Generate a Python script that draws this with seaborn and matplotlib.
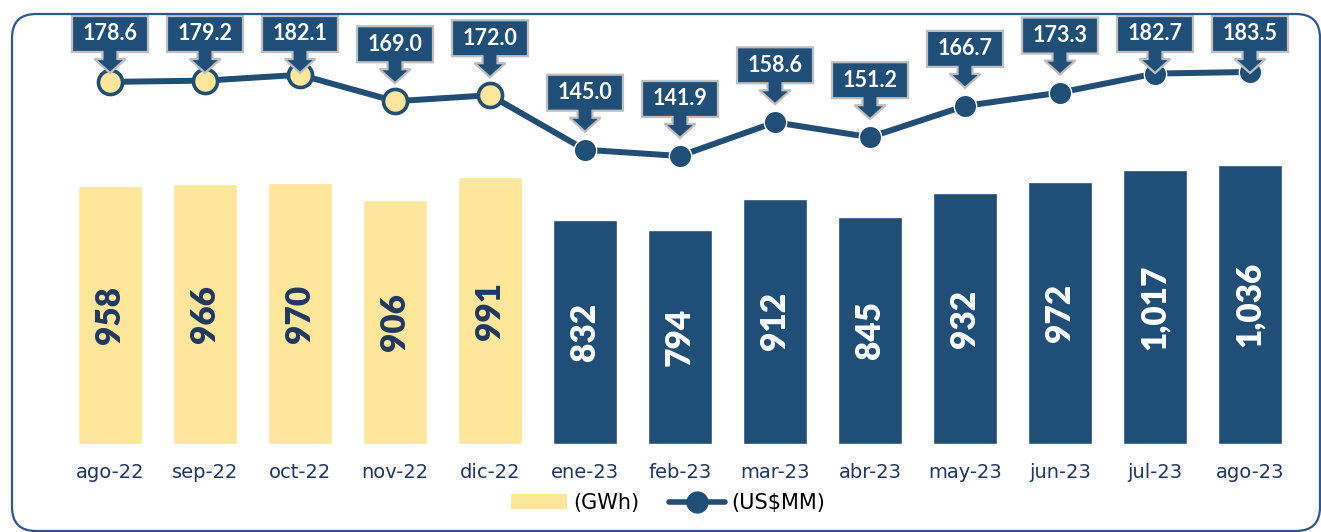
import numpy as np
import pandas as pd
import matplotlib
matplotlib.use("Agg")
import matplotlib.pyplot as plt
import seaborn as sns
from matplotlib.patches import Polygon, FancyBboxPatch, Patch
from matplotlib.lines import Line2D
from matplotlib.transforms import IdentityTransform

months = ["ago-22", "sep-22", "oct-22", "nov-22", "dic-22", "ene-23", "feb-23",
          "mar-23", "abr-23", "may-23", "jun-23", "jul-23", "ago-23"]
gwh = [958, 966, 970, 906, 991, 832, 794, 912, 845, 932, 972, 1017, 1036]
usd = [178.6, 179.2, 182.1, 169.0, 172.0, 145.0, 141.9, 158.6, 151.2, 166.7, 173.3, 182.7, 183.5]
period = ["2022"] * 5 + ["2023"] * 8

YELLOW = "#FFE699"
BLUE = "#1F4E79"
NAVY = "#1F3864"

sns.set_theme(style="white")
plt.rcParams["font.family"] = ["Lato", "DejaVu Sans"]

W, H = 1321, 532
fig = plt.figure(figsize=(W / 100, H / 100), dpi=100)
ax = fig.add_axes([62.5 / W, (H - 444) / H, 1235 / W, 430 / H])

df = pd.DataFrame({"month": months, "gwh": gwh, "usd": usd, "period": period})
sns.barplot(data=df, x="month", y="gwh", hue="period",
            palette={"2022": YELLOW, "2023": BLUE}, dodge=False, width=0.674,
            legend=False, ax=ax, saturation=1)
ax.set_xlim(-0.5, len(months) - 0.5)
ax.set_ylim(0, 1598)
ax.set_xlabel("")
ax.set_ylabel("")
ax.set_yticks([])
for s in ax.spines.values():
    s.set_visible(False)
ax.tick_params(axis="x", length=0, pad=14, labelsize=14, labelcolor=NAVY)
for lbl in ax.get_xticklabels():
    lbl.set_family("DejaVu Sans")

# bar value labels
for i, v in enumerate(gwh):
    col = NAVY if period[i] == "2022" else "white"
    ax.text(i, v / 2, f"{v:,}", rotation=90, ha="center", va="center",
            fontsize=24, fontweight="heavy", color=col)

# line on secondary axis
ax2 = ax.twinx()
ax2.set_ylim(-0.7, 212.2)
ax2.set_yticks([])
for s in ax2.spines.values():
    s.set_visible(False)
x = np.arange(len(months))
sns.lineplot(x=x, y=usd, ax=ax2, color=BLUE, lw=4.3, zorder=2)
m22 = np.array(period) == "2022"
ax2.scatter(x[m22], np.array(usd)[m22], s=300, facecolor=YELLOW, edgecolor=BLUE,
            linewidth=2.6, zorder=3)
ax2.scatter(x[~m22], np.array(usd)[~m22], s=260, facecolor=BLUE, edgecolor="white",
            linewidth=1.0, zorder=3)

# callouts computed from data positions
bw, bh = 76, 36
stem_w, stem_h = 15, 7
head_w, head_h = 31, 14
top_limit = H - 16  # display coords
for i, v in enumerate(usd):
    px, py = ax2.transData.transform((i, v))
    bottom = min(py + 39, top_limit - bh)
    verts = [
        (px - bw / 2, bottom + bh), (px + bw / 2, bottom + bh),
        (px + bw / 2, bottom), (px + stem_w / 2, bottom),
        (px + stem_w / 2, bottom - stem_h), (px + head_w / 2, bottom - stem_h),
        (px, bottom - stem_h - head_h), (px - head_w / 2, bottom - stem_h),
        (px - stem_w / 2, bottom - stem_h), (px - stem_w / 2, bottom),
        (px - bw / 2, bottom),
    ]
    poly = Polygon(verts, closed=True, facecolor=BLUE, edgecolor="#BFBFBF",
                   linewidth=1.6, transform=IdentityTransform(), zorder=6,
                   clip_on=False, joinstyle="miter")
    ax2.add_patch(poly)
    ax2.text(px, bottom + bh / 2, f"{v:.1f}", transform=IdentityTransform(),
             ha="center", va="center", fontsize=15.5, fontweight="bold",
             color="white", zorder=7, clip_on=False)

# legend
handles = [Patch(facecolor=YELLOW, edgecolor="none"),
           Line2D([0], [0], color=BLUE, lw=4, marker="o", markersize=15,
                  markerfacecolor=BLUE, markeredgecolor=BLUE)]
leg = fig.legend(handles, ["(GWh)", "(US$MM)"], ncol=2, loc="center",
                 bbox_to_anchor=(668 / W, 1 - 503 / H), frameon=False,
                 handlelength=2.7, columnspacing=1.4, handletextpad=0.3,
                 prop={"family": "DejaVu Sans", "size": 15})
for t in leg.get_texts():
    t.set_color("black")

# rounded border
border = FancyBboxPatch((12, 1), 1308, H - 14 - 1,
                        boxstyle="round,pad=0,rounding_size=24",
                        transform=IdentityTransform(), facecolor="none",
                        edgecolor="#2F5597", linewidth=1.6, zorder=10)
fig.add_artist(border)

fig.savefig("out.png", dpi=100)
